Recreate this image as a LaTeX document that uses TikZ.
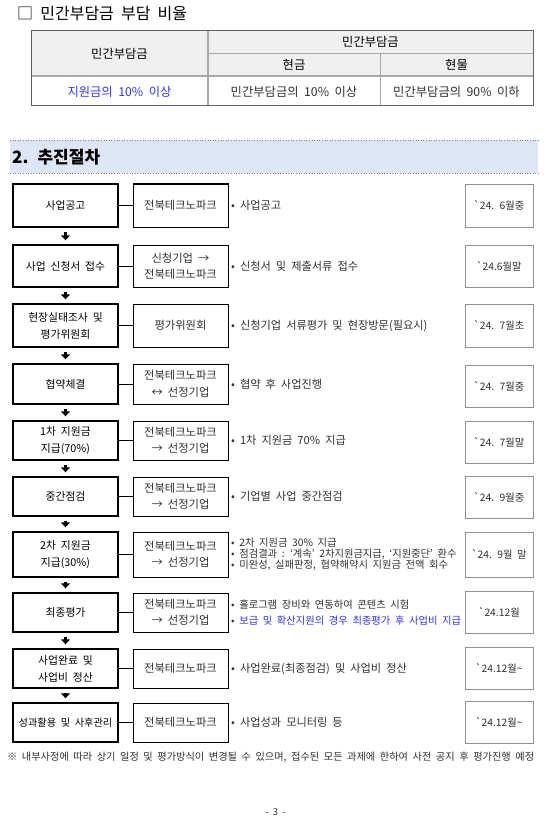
\documentclass[tikz,border=0pt]{standalone}
\usepackage{fontspec}
\setmainfont[WordSpace=2]{Noto Sans CJK KR}
\usetikzlibrary{arrows.meta}
\definecolor{bandblue}{HTML}{DEE5F4}
\definecolor{hdrgray}{HTML}{F0F0F0}
\definecolor{txtblue}{HTML}{3434F0}
\definecolor{tblline}{HTML}{606060}
\definecolor{tblinner}{HTML}{A8A8A8}
\definecolor{dateline}{HTML}{909090}
\definecolor{bodytxt}{HTML}{303030}
\begin{document}
\begin{tikzpicture}[x=1pt,y=-1pt,
  stagebox/.style={draw=black, line width=1.4pt, minimum width=105pt, inner sep=0pt, align=center, text=black, font=\fontsize{10.8}{17}\selectfont},
  actorbox/.style={draw=black, line width=1pt, minimum width=95pt, inner sep=0pt, align=center, text=bodytxt, font=\fontsize{11.3}{16.5}\selectfont},
  datebx/.style={draw=dateline, line width=0.8pt, minimum width=68pt, inner sep=0pt, align=center, text=bodytxt, font=\fontsize{10.3}{12}\selectfont},
  bullettxt/.style={anchor=west, inner sep=0pt, align=left, text=bodytxt, font=\fontsize{11.2}{13}\selectfont},
  smallbullet/.style={bullettxt, font=\fontsize{10.3}{11}\selectfont},
  midbullet/.style={bullettxt, font=\fontsize{10.3}{16}\selectfont},
  tbltxt/.style={inner sep=0pt, text=bodytxt, font=\fontsize{12.3}{14}\selectfont},
  link/.style={line width=1pt},
  flowarrow/.style={-{Triangle[width=9pt,length=5pt]}, line width=3.4pt, shorten <=4pt, shorten >=4pt},
]
\useasboundingbox (0,0) rectangle (551,829);

% ---- title and table
\node[anchor=west, inner sep=0pt, font=\fontsize{16}{18}\selectfont] (title) at (17,14) {□ 민간부담금 부담 비율};
\fill[hdrgray] (31,31) rectangle (533,76);
\draw[tblinner, line width=0.8pt] (208,53.5) -- (533,53.5);
\draw[tblinner, line width=0.8pt] (380,53.5) -- (380,106);
\draw[tblinner, line width=1.6pt] (208,31) -- (208,106);
\draw[tblinner, line width=1.4pt] (31,76) -- (533,76);
\draw[tblline, line width=1pt] (31,31) rectangle (533,106);
\node[tbltxt, text=black] (h1) at (119.5,54) {민간부담금};
\node[tbltxt, text=black] (h2) at (370.5,42) {민간부담금};
\node[tbltxt, text=black] (h3) at (294,65) {현금};
\node[tbltxt, text=black] (h4) at (456.5,65) {현물};
\node[tbltxt, text=txtblue] (c1) at (119.5,91.5) {지원금의 10\% 이상};
\node[tbltxt] (c2) at (294,91.5) {민간부담금의 10\% 이상};
\node[tbltxt] (c3) at (456.5,91.5) {민간부담금의 90\% 이하};

% ---- section band
\fill[bandblue] (10,140) rectangle (538,173);
\draw[dotted, gray, line width=0.6pt] (10,140) -- (538,140);
\draw[dotted, gray, line width=0.6pt] (10,173) -- (538,173);
\node[anchor=west, inner sep=0pt, font=\fontsize{17}{19}\selectfont\bfseries] (sec) at (12,157) {2. 추진절차};

% ---- row 1
\node[stagebox, minimum height=43pt] (s1) at (65.5,205.5) {사업공고};
\node[actorbox, minimum height=43pt] (a1) at (180.5,205.5) {전북테크노파크};
\node[bullettxt] (b1) at (231,205.5) {• 사업공고};
\node[datebx, minimum height=43pt] (d1) at (499,205.5) {\textasciigrave 24. 6월중};
% ---- row 2
\node[stagebox, minimum height=42pt] (s2) at (65.5,266) {사업 신청서 접수};
\node[actorbox, minimum height=42pt] (a2) at (180.5,266) {신청기업 →\\전북테크노파크};
\node[bullettxt] (b2) at (231,266) {• 신청서 및 제출서류 접수};
\node[datebx, minimum height=42pt] (d2) at (499,266) {\textasciigrave 24.6월말};
% ---- row 3
\node[stagebox, minimum height=43pt] (s3) at (65.5,325.5) {현장실태조사 및\\평가위원회};
\node[actorbox, minimum height=43pt] (a3) at (180.5,325.5) {평가위원회};
\node[bullettxt] (b3) at (231,325.5) {• 신청기업 서류평가 및 현장방문(필요시)};
\node[datebx, minimum height=43pt] (d3) at (499,325.5) {\textasciigrave 24. 7월초};
% ---- row 4
\node[stagebox, minimum height=40pt] (s4) at (65.5,384) {협약체결};
\node[actorbox, minimum height=40pt] (a4) at (180.5,384) {전북테크노파크\\↔ 선정기업};
\node[bullettxt] (b4) at (231,384) {• 협약 후 사업진행};
\node[datebx, minimum height=42pt] (d4) at (499,386) {\textasciigrave 24. 7월중};
% ---- row 5
\node[stagebox, minimum height=39pt] (s5) at (65.5,440.5) {1차 지원금\\지급(70\%)};
\node[actorbox, minimum height=39pt] (a5) at (180.5,440.5) {전북테크노파크\\→ 선정기업};
\node[bullettxt] (b5) at (231,440.5) {• 1차 지원금 70\% 지급};
\node[datebx, minimum height=42pt] (d5) at (499,442) {\textasciigrave 24. 7월말};
% ---- row 6
\node[stagebox, minimum height=39pt] (s6) at (65.5,496.5) {중간점검};
\node[actorbox, minimum height=39pt] (a6) at (180.5,496.5) {전북테크노파크\\→ 선정기업};
\node[bullettxt] (b6) at (231,496.5) {• 기업별 사업 중간점검};
\node[datebx, minimum height=42pt] (d6) at (499,497) {\textasciigrave 24. 9월중};
% ---- row 7
\node[stagebox, minimum height=45pt] (s7) at (65.5,554.5) {2차 지원금\\지급(30\%)};
\node[actorbox, minimum height=45pt] (a7) at (180.5,554.5) {전북테크노파크\\→ 선정기업};
\node[smallbullet] (b7) at (231,554.5) {• 2차 지원금 30\% 지급\\• 점검결과 : ‘계속’ 2차지원금지급, ‘지원중단’ 환수\\• 미완성, 실패판정, 협약해약시 지원금 전액 회수};
\node[datebx, minimum height=45pt] (d7) at (499,554.5) {\textasciigrave 24. 9월 말};
% ---- row 8
\node[stagebox, minimum height=39pt] (s8) at (65.5,612.5) {최종평가};
\node[actorbox, minimum height=39pt] (a8) at (180.5,612.5) {전북테크노파크\\→ 선정기업};
\node[midbullet] (b8) at (231,612.5) {• 홀로그램 장비와 연동하여 콘텐츠 시험\\• {\color{txtblue}보급 및 확산지원의 경우 최종평가 후 사업비 지급}};
\node[datebx, minimum height=42pt] (d8) at (499,612.5) {\textasciigrave 24.12월};
% ---- row 9
\node[stagebox, minimum height=39pt] (s9) at (65.5,668.5) {사업완료 및\\사업비 정산};
\node[actorbox, minimum height=39pt] (a9) at (180.5,668.5) {전북테크노파크};
\node[bullettxt] (b9) at (231,668.5) {• 사업완료(최종점검) 및 사업비 정산};
\node[datebx, minimum height=42pt] (d9) at (499,668.5) {\textasciigrave 24.12월\textasciitilde};
% ---- row 10
\node[stagebox, minimum height=39pt, font=\fontsize{10.2}{12}\selectfont] (s10) at (65.5,722.5) {성과활용 및 사후관리};
\node[actorbox, minimum height=39pt] (a10) at (180.5,722.5) {전북테크노파크};
\node[bullettxt] (b10) at (231,722.5) {• 사업성과 모니터링 등};
\node[datebx, minimum height=42pt] (d10) at (499,722.5) {\textasciigrave 24.12월\textasciitilde};

% ---- connectors
\foreach \i in {1,...,10} {\draw[link] (s\i) -- (a\i);}
\foreach \i/\j in {1/2,2/3,3/4,4/5,5/6,6/7,7/8,8/9,9/10} {\draw[flowarrow] (s\i.south) -- (s\j.north);}

% ---- note and page number
\node[anchor=west, inner sep=0pt, text=bodytxt, font=\fontsize{10.2}{12}\selectfont] (note) at (7,757) {※ 내부사정에 따라 상기 일정 및 평가방식이 변경될 수 있으며, 접수된 모든 과제에 한하여 사전 공지 후 평가진행 예정};
\node[inner sep=0pt, text=bodytxt, font=\fontsize{9.5}{11}\selectfont] (page) at (275.5,812) {- 3 -};
\end{tikzpicture}
\end{document}
